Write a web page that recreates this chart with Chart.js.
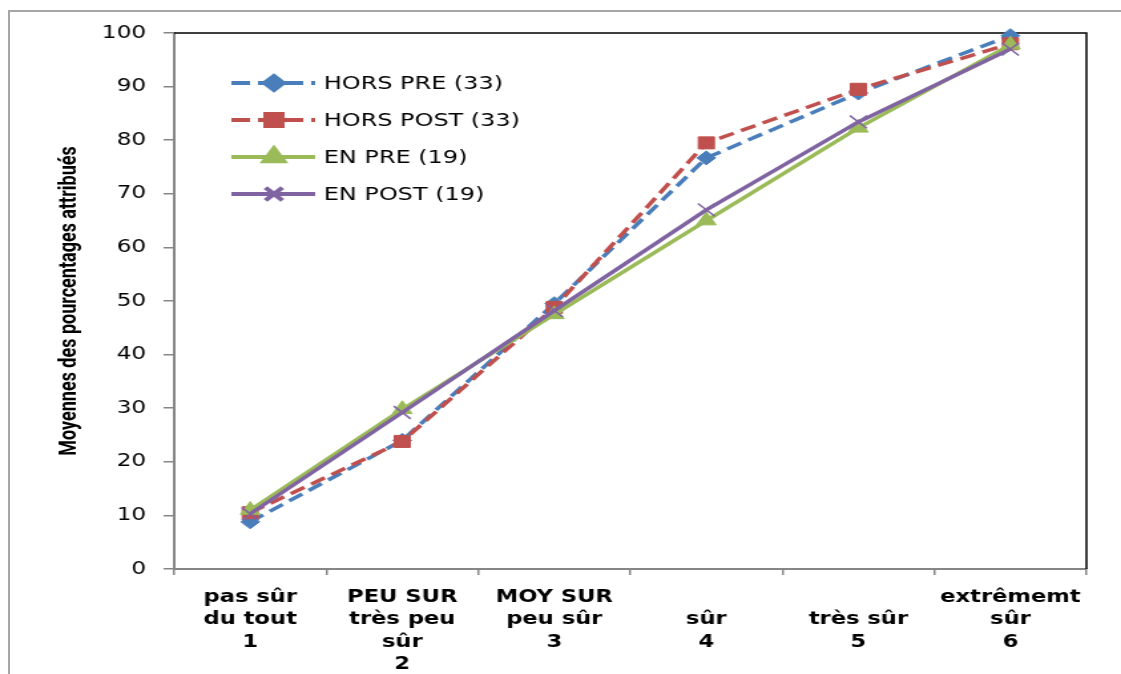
<!DOCTYPE html>
<html lang="fr">
<head>
<meta charset="utf-8">
<title>Moyennes des pourcentages attribués</title>
<script src="https://cdn.jsdelivr.net/npm/chart.js"></script>
<style>
    html, body { margin: 0; padding: 0; background: #fff; }
    body { width: 1121px; height: 674px; position: relative; overflow: hidden; }
    /* Cadre gris du graphique */
    #cadre {
        position: absolute; left: 8px; top: 10px; right: -4px; bottom: -4px;
        border-left: 2px solid #a6a6a6; border-top: 2px solid #a6a6a6;
    }
    /* Le graphique d'origine est étiré horizontalement */
    #zone {
        position: absolute; left: 0; top: 0; width: 843px; height: 674px;
        transform: scaleX(1.3298); transform-origin: 0 0;
    }
</style>
</head>
<body>
<div id="cadre"></div>
<div id="zone"><canvas id="graphique" width="843" height="674"></canvas></div>
<script>
// Catégories de l'axe X (plusieurs lignes par étiquette)
const categories = [
    ["pas sûr", "du tout", "1"],
    ["PEU SUR", "très peu", "sûr", "2"],
    ["MOY SUR", "peu sûr", "3"],
    ["", "sûr", "4"],
    ["", "très sûr", "5"],
    ["extrêmemt", "sûr", "6"]
];

// Valeurs
const horsPre = [8.8, 24, 49.5, 76.7, 88.8, 99.5];
const horsPost = [10.5, 23.8, 48.8, 79.5, 89.5, 98];
const enPre = [11, 29.8, 47.5, 65, 82.3, 97.8];
const enPost = [10.3, 29.2, 48.2, 67, 83.4, 97];

// Noms des séries
const seriesNames = ["HORS PRE (33)", "HORS POST (33)", "EN PRE (19)", "EN POST (19)"];

// Graduations de l'axe Y
const yTicks = [0, 10, 20, 30, 40, 50, 60, 70, 80, 90, 100];

const BLEU = "#4a7ebb";
const ROUGE = "#c0504d";
const VERT = "#9bbb59";
const VIOLET = "#8064a2";
const GRIS = "#868686";

const ctx = document.getElementById("graphique").getContext("2d");

// Une série (ligne + marqueur)
function serie(label, data, color, style, radius, dashed, order) {
    return {
        label: label,
        data: data,
        borderColor: color,
        backgroundColor: color,
        borderWidth: 3.5,
        borderDash: dashed ? [12, 6] : [],
        pointStyle: style,
        pointRadius: radius,
        pointHoverRadius: radius,
        pointBackgroundColor: color,
        pointBorderColor: color,
        pointBorderWidth: style === "crossRot" ? 1.5 : 1,
        tension: 0,
        clip: false,
        order: order
    };
}

const datasets = [
    serie(seriesNames[0], horsPre, BLEU, "rectRot", 7, true, 3),
    serie(seriesNames[1], horsPost, ROUGE, "rect", 8.5, true, 2),
    serie(seriesNames[2], enPre, VERT, "triangle", 8.5, false, 1),
    serie(seriesNames[3], enPost, VIOLET, "crossRot", 9, false, 0)
];

// Bordure noire en haut et à droite de la zone de tracé
const cadreTrace = {
    id: "cadreTrace",
    beforeDatasetsDraw(chart) {
        const a = chart.chartArea;
        const c = chart.ctx;
        c.save();
        c.strokeStyle = "#000";
        c.lineWidth = 1.5;
        c.beginPath();
        c.moveTo(a.left, a.top);
        c.lineTo(a.right, a.top);
        c.lineTo(a.right, a.bottom);
        c.stroke();
        c.restore();
    }
};

// Légende dessinée à l'intérieur de la zone de tracé
const legendeInterne = {
    id: "legendeInterne",
    afterDraw(chart) {
        const c = chart.ctx;
        const rows = [83, 120, 157, 194];
        c.save();
        chart.data.datasets.forEach((ds, i) => {
            const y = rows[i];
            c.strokeStyle = ds.borderColor;
            c.lineWidth = 4;
            c.lineCap = "butt";
            c.setLineDash(ds.borderDash.length ? [14, 6] : []);
            c.beginPath();
            c.moveTo(174, y);
            c.lineTo(237, y);
            c.stroke();
            c.setLineDash([]);
            c.fillStyle = ds.borderColor;
            c.strokeStyle = ds.borderColor;
            Chart.helpers.drawPoint(c, {
                pointStyle: ds.pointStyle,
                rotation: 0,
                radius: ds.pointRadius,
                borderWidth: ds.pointBorderWidth
            }, 206, y);
            c.fillStyle = "#000";
            c.font = "18px 'DejaVu Sans'";
            c.textAlign = "left";
            c.textBaseline = "middle";
            c.fillText(ds.label, 243.5, y + 1);
        });
        c.restore();
    }
};

new Chart(ctx, {
    type: "line",
    data: { labels: categories, datasets: datasets },
    options: {
        responsive: false,
        animation: false,
        layout: { padding: { left: 0, top: 33, right: 26, bottom: 0 } },
        plugins: {
            legend: { display: false },
            tooltip: { enabled: false }
        },
        scales: {
            x: {
                offset: true,
                grid: { offset: true, drawOnChartArea: false, tickLength: 6, color: GRIS, lineWidth: 1.5 },
                border: { color: GRIS, width: 2 },
                ticks: {
                    color: "#000",
                    padding: 11,
                    maxRotation: 0,
                    autoSkip: false,
                    font: { family: "'DejaVu Sans'", size: 17, weight: "bold", lineHeight: 1.32 }
                },
                afterFit(scale) { scale.height = 105; }
            },
            y: {
                min: 0,
                max: 100,
                afterBuildTicks(scale) { scale.ticks = yTicks.map(v => ({ value: v })); },
                grid: { drawOnChartArea: false, tickLength: 8, color: GRIS, lineWidth: 1.5 },
                border: { color: GRIS, width: 2 },
                ticks: {
                    color: "#000",
                    padding: 13,
                    font: { family: "'DejaVu Sans'", size: 17.5 }
                },
                title: {
                    display: true,
                    text: "Moyennes des pourcentages attribués",
                    color: "#000",
                    padding: { top: 42, bottom: 0 },
                    font: { family: "'Liberation Sans Narrow', 'Roboto'", size: 18, weight: "bold" }
                },
                afterFit(scale) { scale.width = 131; }
            }
        }
    },
    plugins: [cadreTrace, legendeInterne]
});
</script>
</body>
</html>
